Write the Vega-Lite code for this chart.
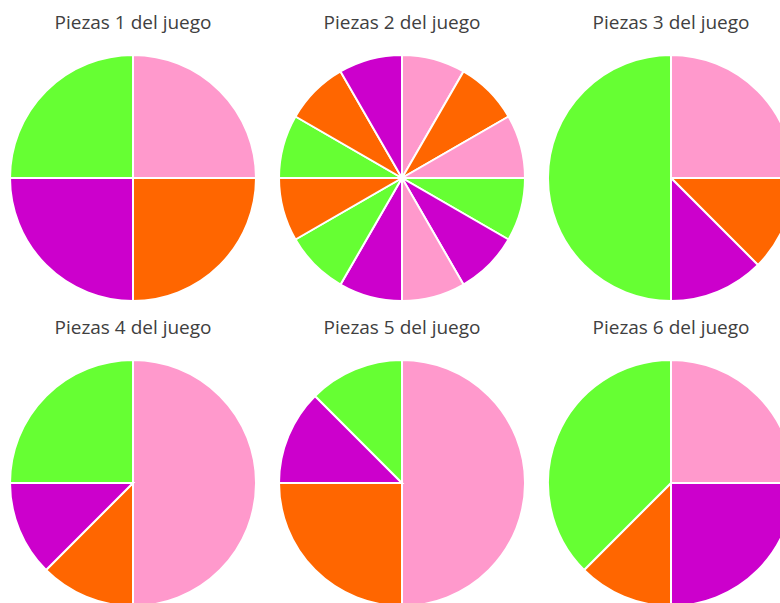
{
  "$schema": "https://vega.github.io/schema/vega-lite/v6.json",
  "padding": {"left": 6, "top": 14, "right": 0, "bottom": 0},
  "background": "white",
  "data": {
    "values": [
      {"juego": "Piezas 1 del juego", "orden": 1, "pieza": "rosa", "valor": 1},
      {"juego": "Piezas 1 del juego", "orden": 2, "pieza": "naranja", "valor": 1},
      {"juego": "Piezas 1 del juego", "orden": 3, "pieza": "morado", "valor": 1},
      {"juego": "Piezas 1 del juego", "orden": 4, "pieza": "verde", "valor": 1},
      {"juego": "Piezas 2 del juego", "orden": 1, "pieza": "rosa", "valor": 1},
      {"juego": "Piezas 2 del juego", "orden": 2, "pieza": "naranja", "valor": 1},
      {"juego": "Piezas 2 del juego", "orden": 3, "pieza": "rosa", "valor": 1},
      {"juego": "Piezas 2 del juego", "orden": 4, "pieza": "verde", "valor": 1},
      {"juego": "Piezas 2 del juego", "orden": 5, "pieza": "morado", "valor": 1},
      {"juego": "Piezas 2 del juego", "orden": 6, "pieza": "rosa", "valor": 1},
      {"juego": "Piezas 2 del juego", "orden": 7, "pieza": "morado", "valor": 1},
      {"juego": "Piezas 2 del juego", "orden": 8, "pieza": "verde", "valor": 1},
      {"juego": "Piezas 2 del juego", "orden": 9, "pieza": "naranja", "valor": 1},
      {"juego": "Piezas 2 del juego", "orden": 10, "pieza": "verde", "valor": 1},
      {"juego": "Piezas 2 del juego", "orden": 11, "pieza": "naranja", "valor": 1},
      {"juego": "Piezas 2 del juego", "orden": 12, "pieza": "morado", "valor": 1},
      {"juego": "Piezas 3 del juego", "orden": 1, "pieza": "rosa", "valor": 2},
      {"juego": "Piezas 3 del juego", "orden": 2, "pieza": "naranja", "valor": 1},
      {"juego": "Piezas 3 del juego", "orden": 3, "pieza": "morado", "valor": 1},
      {"juego": "Piezas 3 del juego", "orden": 4, "pieza": "verde", "valor": 4},
      {"juego": "Piezas 4 del juego", "orden": 1, "pieza": "rosa", "valor": 4},
      {"juego": "Piezas 4 del juego", "orden": 2, "pieza": "naranja", "valor": 1},
      {"juego": "Piezas 4 del juego", "orden": 3, "pieza": "morado", "valor": 1},
      {"juego": "Piezas 4 del juego", "orden": 4, "pieza": "verde", "valor": 2},
      {"juego": "Piezas 5 del juego", "orden": 1, "pieza": "rosa", "valor": 4},
      {"juego": "Piezas 5 del juego", "orden": 2, "pieza": "naranja", "valor": 2},
      {"juego": "Piezas 5 del juego", "orden": 3, "pieza": "morado", "valor": 1},
      {"juego": "Piezas 5 del juego", "orden": 4, "pieza": "verde", "valor": 1},
      {"juego": "Piezas 6 del juego", "orden": 1, "pieza": "rosa", "valor": 2},
      {"juego": "Piezas 6 del juego", "orden": 2, "pieza": "morado", "valor": 2},
      {"juego": "Piezas 6 del juego", "orden": 3, "pieza": "naranja", "valor": 1},
      {"juego": "Piezas 6 del juego", "orden": 4, "pieza": "verde", "valor": 3}
    ]
  },
  "facet": {
    "field": "juego",
    "type": "nominal",
    "header": {
      "title": null,
      "labelFont": "Open Sans",
      "labelFontSize": 19,
      "labelColor": "#404040",
      "labelPadding": 18
    }
  },
  "columns": 3,
  "spacing": {"column": 15, "row": 14},
  "spec": {
    "width": 250,
    "height": 250,
    "mark": {"type": "arc", "outerRadius": 123, "stroke": "white", "strokeWidth": 2},
    "encoding": {
      "theta": {"field": "valor", "type": "quantitative", "stack": true},
      "order": {"field": "orden", "type": "quantitative", "sort": "ascending"},
      "color": {
        "field": "pieza",
        "type": "nominal",
        "scale": {
          "domain": ["rosa", "naranja", "morado", "verde"],
          "range": ["#FF99CC", "#FF6600", "#CC00CC", "#66FF33"]
        },
        "legend": null
      }
    }
  },
  "config": {"view": {"stroke": null}}
}
